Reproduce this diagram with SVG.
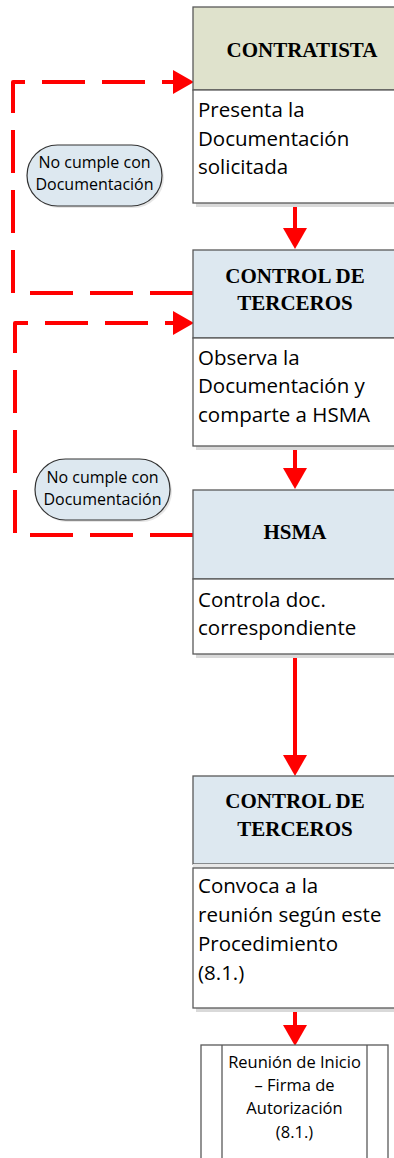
<svg xmlns="http://www.w3.org/2000/svg" width="394" height="1158" viewBox="0 0 394 1158">
<style>
.hdr{stroke:#595959;stroke-width:1.3}
.body{fill:#ffffff;stroke:#595959;stroke-width:1.3}
.shadow{fill:#d9d9d9}
.ht{font-family:"Liberation Serif","Times New Roman",serif;font-weight:bold;font-size:21px;fill:#000;text-anchor:middle}
.bt{font-family:"Open Sans","Liberation Sans",sans-serif;font-size:20.5px;fill:#000}
.lt{font-family:"Open Sans","Liberation Sans",sans-serif;font-size:16px;fill:#000;text-anchor:middle}
.rt{font-family:"Open Sans","Liberation Sans",sans-serif;font-size:16.5px;fill:#000;text-anchor:middle}
.solid{fill:none;stroke:#ff0000;stroke-width:4}
.dash{fill:none;stroke:#ff0000;stroke-width:4;stroke-dasharray:43 17;stroke-linejoin:round}
.pill{fill:#dde8f0;stroke:#333;stroke-width:1.2}
</style>
<defs>
<marker id="ah" markerUnits="userSpaceOnUse" markerWidth="22" markerHeight="26" refX="10" refY="12" orient="auto" viewBox="0 0 22 26">
<path d="M0,0 L21,12 L0,24 z" fill="#ff0000"/>
</marker>
</defs>

<g id="connectors">
<path class="solid" d="M295,203 V238" marker-end="url(#ah)"/>
<path class="solid" d="M295,446 V478" marker-end="url(#ah)"/>
<path class="solid" d="M295,654 V765" marker-end="url(#ah)"/>
<path class="solid" d="M295,1008 V1035" marker-end="url(#ah)"/>
<path class="dash" d="M193,293 H13 V82 H183" marker-end="url(#ah)"/>
<path class="dash" d="M193,535 H15 V323 H183" marker-end="url(#ah)"/>
</g>

<g id="label1">
<rect x="29" y="147" width="135" height="61" rx="30.5" fill="#e6e6e6"/>
<rect class="pill" x="27" y="145" width="135" height="61" rx="30.5"/>
<text class="lt" x="94.5" y="168">No cumple con</text>
<text class="lt" x="94.5" y="190">Documentación</text>
</g>

<g id="label2">
<rect x="37" y="461" width="135" height="61" rx="30.5" fill="#e6e6e6"/>
<rect class="pill" x="35" y="459" width="135" height="61" rx="30.5"/>
<text class="lt" x="102.5" y="483">No cumple con</text>
<text class="lt" x="102.5" y="505">Documentación</text>
</g>

<g id="contratista">
<rect class="shadow" x="196" y="203" width="205" height="4"/>
<rect class="hdr" x="193" y="7" width="204" height="83" fill="#dfe2cc"/>
<rect class="body" x="193" y="90" width="204" height="113"/>
<text class="ht" x="302" y="57">CONTRATISTA</text>
<text class="bt" x="198" y="117">Presenta la</text>
<text class="bt" x="198" y="146">Documentación</text>
<text class="bt" x="198" y="174">solicitada</text>
</g>

<g id="control1">
<rect class="shadow" x="196" y="446" width="205" height="4"/>
<rect class="hdr" x="193" y="250" width="204" height="88" fill="#dde8f0"/>
<rect class="body" x="193" y="338" width="204" height="108"/>
<text class="ht" x="295" y="283">CONTROL DE</text>
<text class="ht" x="295" y="310">TERCEROS</text>
<text class="bt" x="198" y="365">Observa la</text>
<text class="bt" x="198" y="393">Documentación y</text>
<text class="bt" x="198" y="422">comparte a HSMA</text>
</g>

<g id="hsma">
<rect class="shadow" x="196" y="654" width="205" height="4"/>
<rect class="hdr" x="193" y="490" width="204" height="89" fill="#dde8f0"/>
<rect class="body" x="193" y="579" width="204" height="75"/>
<text class="ht" x="295" y="539">HSMA</text>
<text class="bt" x="198" y="607">Controla doc.</text>
<text class="bt" x="198" y="635">correspondiente</text>
</g>

<g id="control2">
<rect class="shadow" x="196" y="1008" width="205" height="4"/>
<rect class="hdr" x="193" y="776" width="204" height="88" fill="#dde8f0"/>
<rect x="193" y="864" width="204" height="4" fill="#e8e8e8"/>
<rect class="body" x="193" y="868" width="204" height="140"/>
<text class="ht" x="295" y="808">CONTROL DE</text>
<text class="ht" x="295" y="836">TERCEROS</text>
<text class="bt" x="198" y="893">Convoca a la</text>
<text class="bt" x="198" y="922">reunión según este</text>
<text class="bt" x="198" y="951">Procedimiento</text>
<text class="bt" x="198" y="980">(8.1.)</text>
</g>

<g id="reunion">
<rect x="201" y="1045" width="187" height="120" fill="#ffffff" stroke="#595959" stroke-width="1.3"/>
<line x1="222" y1="1045" x2="222" y2="1165" stroke="#595959" stroke-width="1.3"/>
<line x1="367" y1="1045" x2="367" y2="1165" stroke="#595959" stroke-width="1.3"/>
<text class="rt" x="294.5" y="1068">Reunión de Inicio</text>
<text class="rt" x="294.5" y="1091">– Firma de</text>
<text class="rt" x="294.5" y="1114">Autorización</text>
<text class="rt" x="294.5" y="1138">(8.1.)</text>
</g>
</svg>
